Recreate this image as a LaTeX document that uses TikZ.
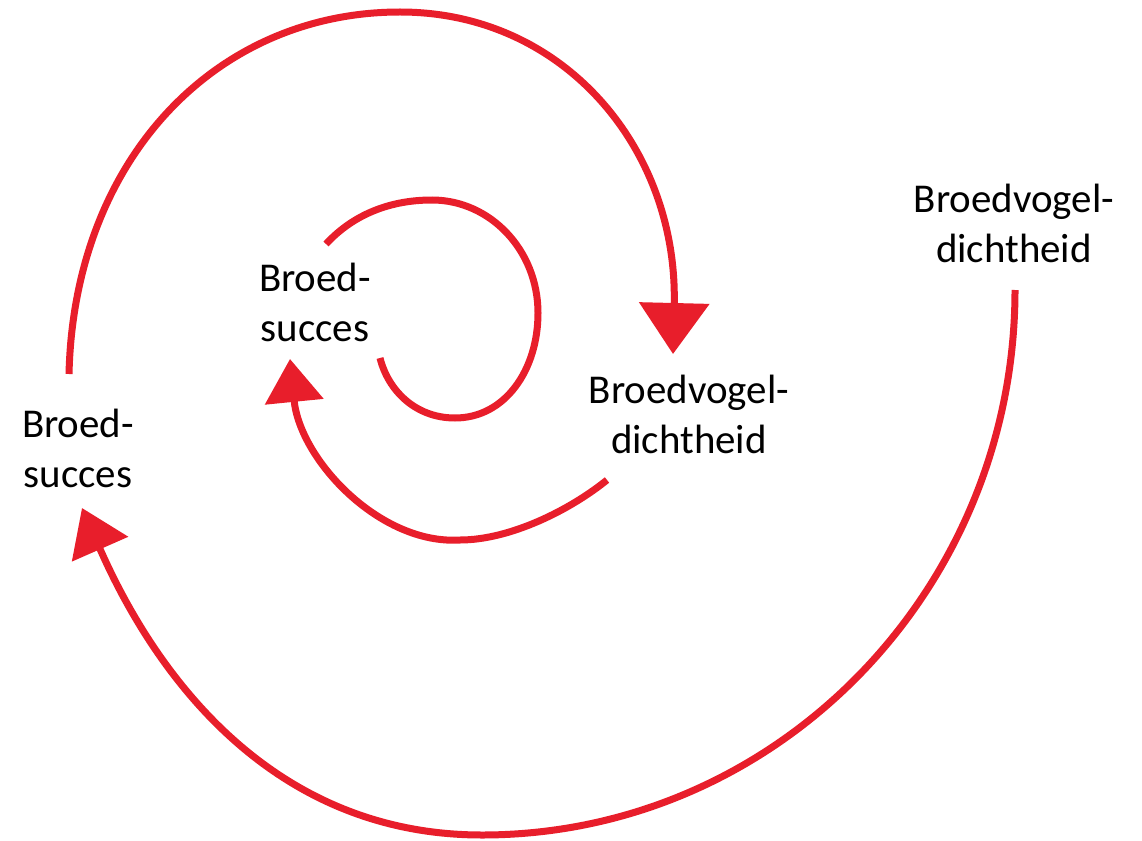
\documentclass[tikz,border=0pt]{standalone}
\usepackage{fontspec}
\setmainfont{Carlito}
\usetikzlibrary{arrows.meta}
\definecolor{spiralred}{RGB}{232,30,43}
\begin{document}
\begin{tikzpicture}[x=0.02cm,y=-0.02cm,
  lbl/.style={align=center,inner sep=0pt,font=\fontsize{23.3}{28.5}\selectfont},
  loop/.style={draw=spiralred,line width=0.14cm,line cap=butt},
  tipbig/.style={-{Triangle[width=1.38cm,length=1.02cm]}},
  tipmid/.style={-{Triangle[width=1.2cm,length=0.9cm]}},
  tipsmall/.style={-{Triangle[width=1.15cm,length=0.86cm]}}]
\useasboundingbox (0,0) rectangle (1142,841);
\fill[white] (0,0) rectangle (1142,841);
% labels
\node[lbl] (bs1) at (78,448) {Broed-\\succes};
\node[lbl] (bs2) at (315,302) {Broed-\\succes};
\node[lbl] (bd1) at (689,414) {Broedvogel-\\dichtheid};
\node[lbl] (bd2) at (1014,223) {Broedvogel-\\dichtheid};
% end points of the connectors
\coordinate (c1s) at (380,358);
\coordinate (c1e) at (326,244);
\coordinate (c2s) at (607,480);
\coordinate (c2e) at (290,359);
\coordinate (c3s) at (69,374);
\coordinate (c3e) at (673,354);
\coordinate (c4s) at (1015,290);
\coordinate (c4e) at (82,508);
% inner spiral turn
\draw[loop] (c1s) .. controls (388,390) and (415,418) .. (455,418)
  .. controls (505,418) and (538,370) .. (538,313)
  .. controls (538,250) and (490,200) .. (432,200)
  .. controls (385,200) and (350,218) .. (c1e);
% bd1 -> bs2
\draw[loop,tipsmall] (c2s) .. controls (570,510) and (510,540) .. (460,540)
  .. controls (380,545) and (300,460) .. (c2e);
% bs1 -> bd1
\draw[loop,tipbig] (c3s) .. controls (74,160) and (215,12) .. (400,12)
  .. controls (565,12) and (678,150) .. (c3e);
% bd2 -> bs1
\draw[loop,tipmid] (c4s) .. controls (1015,591) and (776,835) .. (482,835)
  .. controls (282,835) and (162,690) .. (c4e);
\end{tikzpicture}
\end{document}
